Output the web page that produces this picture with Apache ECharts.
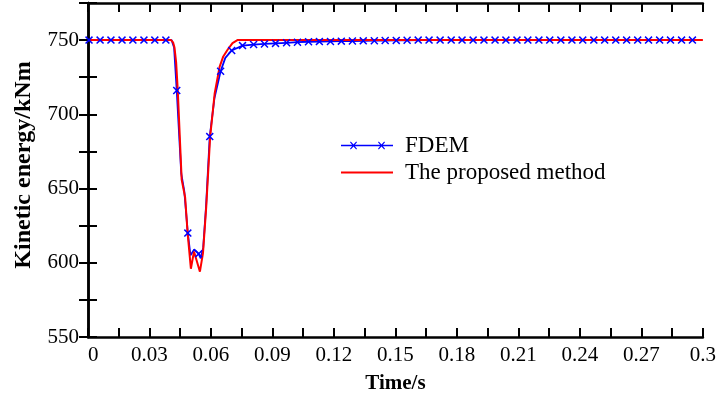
<!DOCTYPE html>
<html>
<head>
<meta charset="utf-8">
<script src="https://cdn.jsdelivr.net/npm/echarts@6/dist/echarts.min.js"></script>
<style>
  html, body { margin: 0; padding: 0; background: #fff; }
  #chart { width: 719px; height: 400px; }
</style>
</head>
<body>
<div id="chart"></div>
<script>
// FDEM samples (time in s, kinetic energy in kNm); fdemMarked = 1 where a cross is drawn
const fdemTime = [
  0.0005, 0.0059, 0.0112, 0.0166, 0.0219, 0.0273, 0.0326, 0.0380,
  0.0408, 0.0420, 0.0433, 0.0455, 0.0470, 0.0487, 0.0500, 0.0518,
  0.0540, 0.0550, 0.0562, 0.0576, 0.0594, 0.0617, 0.0647, 0.0670,
  0.0701, 0.0754, 0.0808, 0.0861, 0.0915, 0.0969, 0.1022, 0.1076,
  0.1129, 0.1183, 0.1236, 0.1290, 0.1343, 0.1397, 0.1450, 0.1504,
  0.1557, 0.1611, 0.1664, 0.1718, 0.1772, 0.1825, 0.1879, 0.1932,
  0.1986, 0.2039, 0.2093, 0.2146, 0.2200, 0.2253, 0.2307, 0.2361,
  0.2414, 0.2468, 0.2521, 0.2575, 0.2628, 0.2682, 0.2735, 0.2789,
  0.2842, 0.2896, 0.2949
];
const fdemEnergy = [
  750, 750, 750, 750, 750, 750, 750, 750,
  750, 745, 716, 660, 648, 620, 605, 609,
  606, 603, 610, 638, 685, 711, 729, 738,
  743, 746.3, 747, 747.4, 747.8, 748.2, 748.6, 748.9,
  749, 749.1, 749.3, 749.4, 749.5, 749.6, 749.7, 749.8,
  749.9, 750, 750, 750, 750, 750, 750, 750,
  750, 750, 750, 750, 750, 750, 750, 750,
  750, 750, 750, 750, 750, 750, 750, 750,
  750, 750, 750
];
const fdemMarked = [
  1, 1, 1, 1, 1, 1, 1, 1,
  0, 0, 1, 0, 0, 1, 0, 0,
  1, 0, 0, 0, 1, 0, 1, 0,
  1, 1, 1, 1, 1, 1, 1, 1,
  1, 1, 1, 1, 1, 1, 1, 1,
  1, 1, 1, 1, 1, 1, 1, 1,
  1, 1, 1, 1, 1, 1, 1, 1,
  1, 1, 1, 1, 1, 1, 1, 1,
  1, 1, 1
];

// The proposed method
const proposedTime = [
  0, 0.0405, 0.0415, 0.0422, 0.0430, 0.0438, 0.0457, 0.0474, 0.0486,
  0.0502, 0.0517, 0.0529, 0.0546, 0.0561, 0.0577, 0.0596, 0.0618,
  0.0642, 0.0660, 0.0681, 0.0705, 0.0729, 0.3
];
const proposedEnergy = [
  750, 750, 748.5, 745, 735, 716, 656, 644, 620,
  596, 607.5, 602, 594, 606.5, 638, 685, 714,
  732, 739, 743.5, 748, 750, 750
];

// Axis ticks
const timeTicks = [0, 0.03, 0.06, 0.09, 0.12, 0.15, 0.18, 0.21, 0.24, 0.27, 0.3];
const energyTicks = [550, 600, 650, 700, 750];

const serif = '"Liberation Serif", "DejaVu Serif", serif';
const crossPath = 'path://M0,1.3 L1.3,0 L5,3.7 L8.7,0 L10,1.3 L6.3,5 L10,8.7 L8.7,10 L5,6.3 L1.3,10 L0,8.7 L3.7,5 Z';
// legend icon: line with two crosses
const fdemIcon = 'path://M0,3.2 H52 V4.8 H0 Z M9,0.7 L9.8,0 L12.5,2.9 L15.2,0 L16,0.7 L13.3,4 L16,7.3 L15.2,8 L12.5,5.1 L9.8,8 L9,7.3 L11.7,4 Z M37,0.7 L37.8,0 L40.5,2.9 L43.2,0 L44,0.7 L41.3,4 L44,7.3 L43.2,8 L40.5,5.1 L37.8,8 L37,7.3 L39.7,4 Z';

const fdemData = fdemTime.map((t, i) => {
  const item = { value: [t, fdemEnergy[i]] };
  if (!fdemMarked[i]) item.symbol = 'none';
  return item;
});
const proposedData = proposedTime.map((t, i) => [t, proposedEnergy[i]]);

const fmtTime = v => {
  const hit = timeTicks.find(t => Math.abs(t - v) < 1e-9);
  return hit === undefined ? '' : String(hit);
};
const fmtEnergy = v => energyTicks.includes(v) ? String(v) : '';

const axisLine = { show: true, lineStyle: { color: '#000', width: 2.5 } };
const axisTick = { show: true, inside: true, length: 9, lineStyle: { color: '#000', width: 2 } };

const chart = echarts.init(document.getElementById('chart'));
chart.setOption({
  animation: false,
  backgroundColor: '#fff',
  grid: { left: 88, right: 6, top: 3, bottom: 63, containLabel: false },
  xAxis: [{
    type: 'value', min: 0, max: 0.3, interval: 0.015,
    axisLine, axisTick, splitLine: { show: false },
    axisLabel: {
      formatter: fmtTime, color: '#000', fontFamily: serif, fontSize: 21, margin: 8,
      alignMinLabel: 'left'
    },
    name: 'Time/s', nameLocation: 'middle', nameGap: 36,
    nameTextStyle: { color: '#000', fontFamily: serif, fontSize: 21, fontWeight: 'bold' }
  }, {
    type: 'value', position: 'top', min: 0, max: 0.3, interval: 0.015,
    axisLine, axisTick, axisLabel: { show: false }, splitLine: { show: false }
  }],
  yAxis: [{
    type: 'value', min: 550, max: 775, interval: 25,
    axisLine, axisTick, splitLine: { show: false },
    axisLabel: { formatter: fmtEnergy, color: '#000', fontFamily: serif, fontSize: 21, margin: 9 },
    name: 'Kinetic energy/kNm', nameLocation: 'middle', nameGap: 52,
    nameTextStyle: {
      color: '#000', fontFamily: serif, fontSize: 24, fontWeight: 'bold',
      padding: [0, 0, 0, 10]
    }
  }, {
    type: 'value', position: 'right', min: 550, max: 775, interval: 25,
    axisLine, axisTick, axisLabel: { show: false }, splitLine: { show: false }
  }],
  legend: [{
    data: [{ name: 'FDEM', icon: fdemIcon }],
    left: 336, top: 129, itemWidth: 52, itemHeight: 8,
    textStyle: { color: '#000', fontFamily: serif, fontSize: 23, padding: [0, 0, 0, 7] }
  }, {
    data: [{ name: 'The proposed method', icon: 'rect' }],
    left: 336, top: 156, itemWidth: 52, itemHeight: 2,
    textStyle: { color: '#000', fontFamily: serif, fontSize: 23, padding: [0, 0, 0, 7] }
  }],
  series: [{
    name: 'FDEM', type: 'line', data: fdemData,
    symbol: crossPath, symbolSize: 8,
    itemStyle: { color: '#0000ff' },
    lineStyle: { color: '#0000ff', width: 1.8 },
    clip: false
  }, {
    name: 'The proposed method', type: 'line', data: proposedData,
    symbol: 'none', showSymbol: false,
    itemStyle: { color: '#ff0000' },
    lineStyle: { color: '#ff0000', width: 2 }
  }]
});
</script>
</body>
</html>
